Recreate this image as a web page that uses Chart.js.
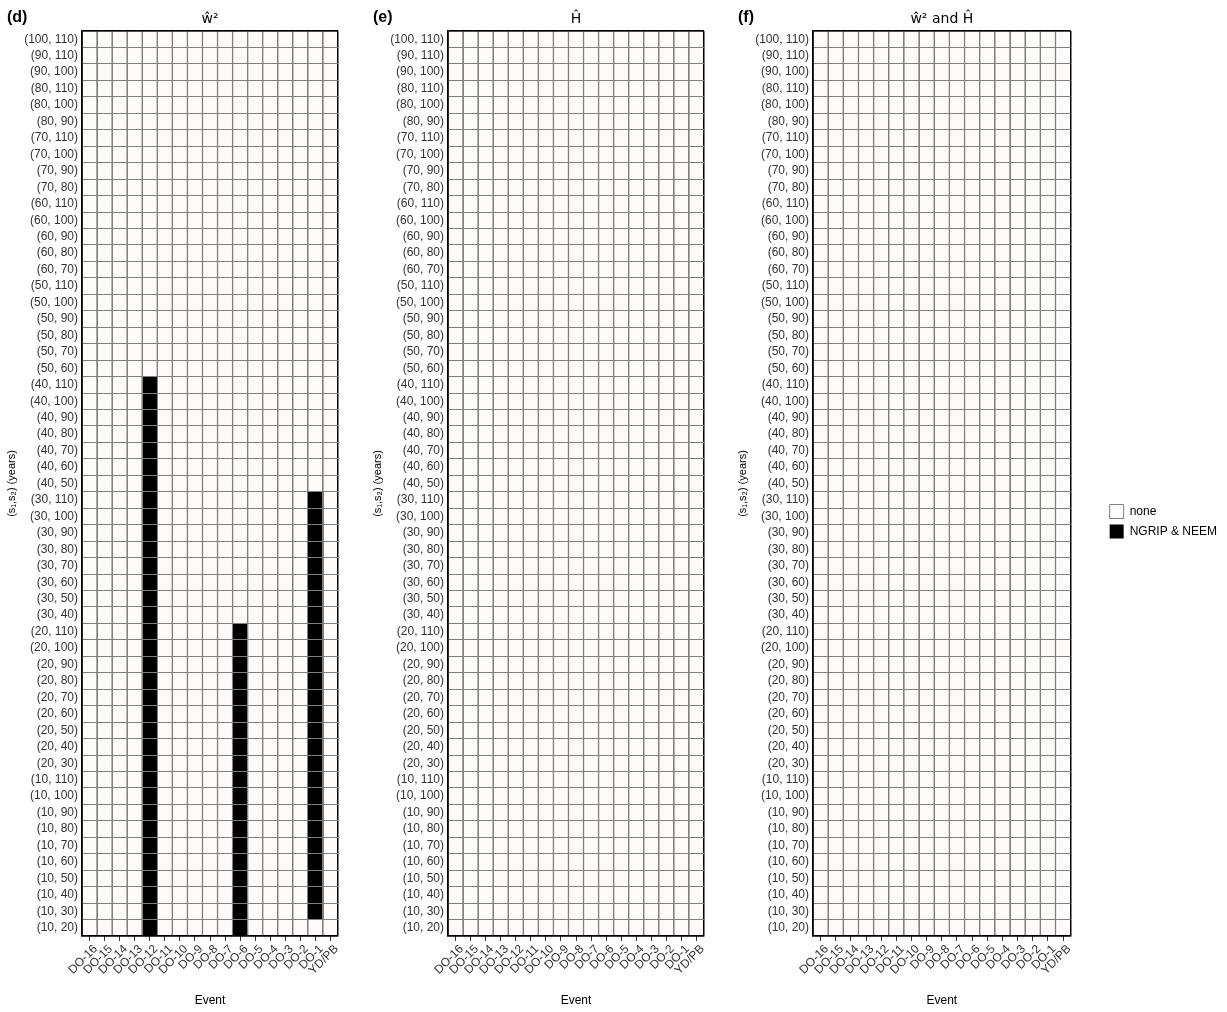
<!DOCTYPE html>
<html>
<head>
<meta charset="utf-8">
<script src="https://cdn.jsdelivr.net/npm/chart.js"></script>
<style>
  body { margin: 0; background: #fff; width: 1227px; height: 1012px; overflow: hidden; position: relative; }
  canvas { position: absolute; top: 0; }
</style>
</head>
<body>
<canvas id="cd" width="360" height="1012" style="left:0px"></canvas>
<canvas id="ce" width="360" height="1012" style="left:366px"></canvas>
<canvas id="cf" width="496" height="1012" style="left:731px"></canvas>
<script>
// events along x
var events = ['DO-16', 'DO-15', 'DO-14', 'DO-13', 'DO-12', 'DO-11', 'DO-10', 'DO-9', 'DO-8',
              'DO-7', 'DO-6', 'DO-5', 'DO-4', 'DO-3', 'DO-2', 'DO-1', 'YD/PB'];

// (s1, s2) pairs, bottom to top
var pairs = [
  '(10, 20)', '(10, 30)', '(10, 40)', '(10, 50)', '(10, 60)', '(10, 70)', '(10, 80)', '(10, 90)', '(10, 100)', '(10, 110)',
  '(20, 30)', '(20, 40)', '(20, 50)', '(20, 60)', '(20, 70)', '(20, 80)', '(20, 90)', '(20, 100)', '(20, 110)',
  '(30, 40)', '(30, 50)', '(30, 60)', '(30, 70)', '(30, 80)', '(30, 90)', '(30, 100)', '(30, 110)',
  '(40, 50)', '(40, 60)', '(40, 70)', '(40, 80)', '(40, 90)', '(40, 100)', '(40, 110)',
  '(50, 60)', '(50, 70)', '(50, 80)', '(50, 90)', '(50, 100)', '(50, 110)',
  '(60, 70)', '(60, 80)', '(60, 90)', '(60, 100)', '(60, 110)',
  '(70, 80)', '(70, 90)', '(70, 100)', '(70, 110)',
  '(80, 90)', '(80, 100)', '(80, 110)',
  '(90, 100)', '(90, 110)',
  '(100, 110)'
];

// cells marked "NGRIP & NEEM": per event, lowest and highest pair
var w2Events = ['DO-12', 'DO-6', 'DO-1'];
var w2From = ['(10, 20)', '(10, 20)', '(10, 30)'];
var w2To = ['(40, 110)', '(20, 110)', '(30, 110)'];

var hEvents = [];
var hFrom = [];
var hTo = [];

var bothEvents = [];
var bothFrom = [];
var bothTo = [];

var legendNames = ['none', 'NGRIP & NEEM'];

Chart.defaults.font.family = '"Liberation Sans", Arial, sans-serif';
Chart.defaults.color = '#333';

var GRID = '#7f7f7f';
function gridColor(ctx) { return (ctx.type !== 'tick' || ctx.index === 0) ? '#000' : GRID; }
function gridWidth(ctx) { return (ctx.type !== 'tick' || ctx.index === 0) ? 1.5 : 1; }

var panelTitles = {
  id: 'panelTitles',
  afterDraw: function(chart, args, opts) {
    var ctx = chart.ctx, a = chart.chartArea;
    ctx.save();
    ctx.fillStyle = '#000';
    ctx.textBaseline = 'alphabetic';
    ctx.textAlign = 'left';
    ctx.font = 'bold 16px "Liberation Sans"';
    ctx.fillText(opts.tag, 7, 22);
    ctx.textAlign = 'center';
    ctx.font = '14px "DejaVu Sans"';
    ctx.fillText(opts.text, (a.left + a.right) / 2, 23);
    ctx.restore();
  }
};

function cells(evs, from, to) {
  var out = [];
  for (var i = 0; i < events.length; i++) {
    var k = evs.indexOf(events[i]);
    if (k < 0) out.push(null);
    else out.push([pairs.indexOf(from[k]), pairs.indexOf(to[k]) + 1]);
  }
  return out;
}

function panel(id, tag, text, evs, from, to, withLegend) {
  var full = [];
  for (var i = 0; i < events.length; i++) full.push([0, pairs.length]);

  new Chart(document.getElementById(id), {
    type: 'bar',
    data: {
      labels: events,
      datasets: [{
        label: legendNames[0],
        data: full,
        backgroundColor: '#fffafa',
        borderColor: GRID,
        borderWidth: 1,
        yAxisID: 'yv',
        grouped: false,
        order: 1,
        categoryPercentage: 1,
        barPercentage: 1
      }, {
        label: legendNames[1],
        data: cells(evs, from, to),
        backgroundColor: '#000',
        borderColor: '#000',
        borderWidth: 0,
        yAxisID: 'yv',
        grouped: false,
        order: 0,
        categoryPercentage: 1,
        barPercentage: 1
      }]
    },
    options: {
      responsive: false,
      animation: false,
      layout: { padding: { top: 31, left: 0, right: withLegend ? 0 : 22, bottom: 0 } },
      plugins: {
        tooltip: { enabled: false },
        panelTitles: { tag: tag, text: text },
        legend: {
          display: withLegend,
          position: 'right',
          maxWidth: 200,
          labels: {
            boxWidth: 14, boxHeight: 14, padding: 6, color: '#000',
            font: { size: 12 },
            sort: function(a, b) { return a.datasetIndex - b.datasetIndex; }
          }
        }
      },
      scales: {
        x: {
          type: 'category', offset: true, weight: 0,
          grid: { offset: true, drawTicks: false, color: gridColor, lineWidth: gridWidth, z: 1 },
          border: { display: true, color: '#000', width: 1.5, z: 2 },
          ticks: { display: false },
          afterFit: function(s) { s.height = 0; }
        },
        x2: {
          type: 'category', axis: 'x', position: 'bottom', offset: true, weight: 1,
          grid: { offset: false, drawOnChartArea: false, drawTicks: true, tickLength: 5, tickColor: '#333', color: '#333' },
          border: { display: false },
          ticks: { autoSkip: false, minRotation: 45, maxRotation: 45, padding: 1, labelOffset: 6, color: '#333', font: { size: 12 } },
          title: { display: true, text: 'Event', color: '#000', font: { size: 12 }, padding: { top: 2, bottom: 4 } },
          afterFit: function(s) { s.height = 76; }
        },
        y: {
          type: 'category', axis: 'y', labels: pairs, reverse: true, offset: true, position: 'left', weight: 1,
          grid: { offset: true, drawTicks: false, color: gridColor, lineWidth: gridWidth, z: 1 },
          border: { display: true, color: '#000', width: 1.5, z: 2 },
          ticks: { autoSkip: false, padding: 4, color: '#333', font: { size: 12 } },
          title: { display: true, text: '(s\u2081,s\u2082) (years)', color: '#000', font: { size: 11 }, padding: { top: 5, bottom: 0 } },
          afterFit: function(s) { s.width = 82; }
        },
        yv: {
          type: 'linear', axis: 'y', position: 'right', min: 0, max: pairs.length,
          display: withLegend,
          ticks: { display: false },
          grid: { display: false, drawTicks: false },
          border: { display: false },
          afterFit: function(s) { s.width = withLegend ? 33 : 0; }
        }
      }
    },
    plugins: [panelTitles]
  });
}

panel('cd', '(d)', 'w\u0302\u00b2', w2Events, w2From, w2To, false);
panel('ce', '(e)', 'H\u0302', hEvents, hFrom, hTo, false);
panel('cf', '(f)', 'w\u0302\u00b2 and H\u0302', bothEvents, bothFrom, bothTo, true);
</script>
</body>
</html>
